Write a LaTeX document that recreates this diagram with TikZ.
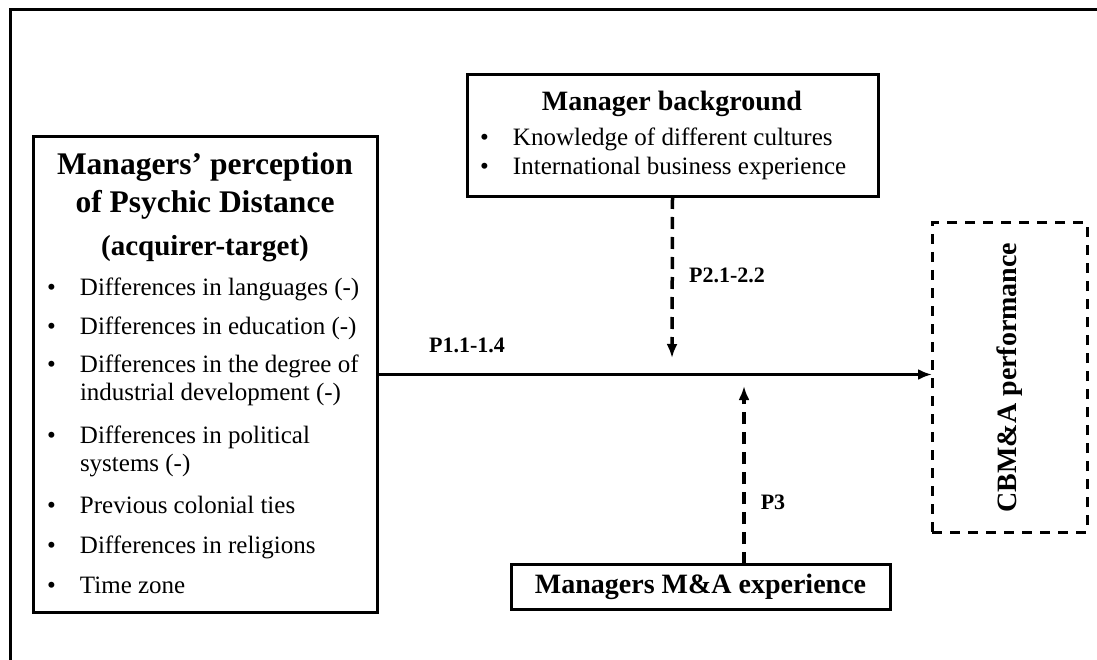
\documentclass[tikz,border=0pt]{standalone}
\usepackage{fontspec}
\setmainfont{Liberation Serif}
\usetikzlibrary{positioning, arrows.meta}

% bullet line with hanging indent
\newcommand{\bitem}[1]{\begin{tabular}{@{}p{33pt}@{}l@{}}\textbullet & #1\end{tabular}}

\begin{document}
\begin{tikzpicture}[%
    x=1pt, y=-1pt,
    >={Latex[length=14pt,width=11pt]},
    every node/.style={inner sep=0pt, outer sep=0pt},
    box/.style={draw=black, line width=3pt},
    dashbox/.style={draw=black, line width=3pt, dash pattern=on 10pt off 8pt},
    headtext/.style={font=\bfseries\fontsize{28}{34}\selectfont, align=center},
    itemtext/.style={font=\fontsize{25}{28}\selectfont, anchor=west},
    plabel/.style={font=\bfseries\fontsize{22}{26}\selectfont},
    link/.style={->, line width=3.5pt},
    dlink/.style={->, line width=3.5pt, dash pattern=on 12pt off 8pt}
  ]

  \useasboundingbox (0,0) rectangle (1097,660);

  % outer frame
  \draw[line width=3pt] (10,668) |- (1105,10);

  % Psychic distance box
  \node[box, anchor=north west, minimum width=344pt, minimum height=475pt]
    (psy) at (33,137) {};
  \node[headtext, font=\bfseries\fontsize{31.5}{38}\selectfont]
    (t1) at (205,186)
    {Managers’ perception\\of Psychic Distance};
  \node[headtext, font=\bfseries\fontsize{29}{32}\selectfont]
    (t2) at (205,249)
    {(acquirer-target)};
  \node[itemtext] (i1) at (47,290) {\bitem{Differences in languages (-)}};
  \node[itemtext, below=39pt of i1.west, anchor=west]
    (i2)
    {\bitem{Differences in education (-)}};
  \node[itemtext, below=52pt of i2.west, anchor=west]
    (i3)
    {\bitem{Differences in the degree of\\ & industrial development (-)}};
  \node[itemtext, below=71pt of i3.west, anchor=west]
    (i4)
    {\bitem{Differences in political\\ & systems (-)}};
  \node[itemtext, below=56pt of i4.west, anchor=west]
    (i5)
    {\bitem{Previous colonial ties}};
  \node[itemtext, below=40pt of i5.west, anchor=west]
    (i6)
    {\bitem{Differences in religions}};
  \node[itemtext, below=40pt of i6.west, anchor=west]
    (i7)
    {\bitem{Time zone}};

  % Manager background box
  \node[box, anchor=north west, minimum width=411pt, minimum height=122pt]
    (bg) at (467,75) {};
  \node[headtext] (b0) at (672,104) {Manager background};
  \node[itemtext] (b1) at (480,140) {\bitem{Knowledge of different cultures}};
  \node[itemtext, below=29pt of b1.west, anchor=west]
    (b2)
    {\bitem{International business experience}};

  % M&A experience box
  \node[box, headtext, anchor=north west, minimum width=379pt, minimum height=45pt]
    (mae) at (511,564) {Managers M\&A experience};

  % performance box
  \node[dashbox, anchor=north west, minimum width=155pt, minimum height=309pt]
    (cbm) at (932,223) {};
  \node[headtext, rotate=90] (c1) at (cbm.center) {CBM\&A performance};

  % Arrows
  \coordinate (p2tip) at (672,358);
  \coordinate (p3tip) at (744,386);
  \draw[link] (psy.east) -- (psy.east -| cbm.west);
  \draw[dlink] (bg.south) -- (p2tip);
  \draw[dlink] (mae.north -| p3tip) -- (p3tip);

  \node[plabel] (p1) at (467,345) {P1.1-1.4};
  \node[plabel] (p2) at (727,275) {P2.1-2.2};
  \node[plabel] (p3) at (773,502) {P3};

\end{tikzpicture}
\end{document}
